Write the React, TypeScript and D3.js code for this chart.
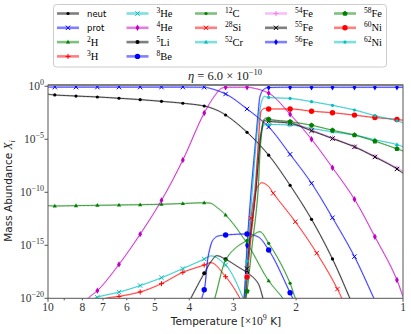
import React from 'react';
import * as d3 from 'd3';

// ---- axis / tick data ----
const X_TICKS = [10, 9, 8, 7, 6, 5, 4, 3, 2, 1];
const X_TICK_LABELS = ['10', '', '8', '7', '6', '5', '4', '3', '2', '1'];
const Y_TICK_EXP = [0, -5, -10, -15, -20];

// temperatures (10^9 K) where markers are drawn
const MARKER_T = [9.57, 8.34, 7.26, 6.31, 5.5, 4.79, 4.17, 3.63, 3.16, 2.75, 2.39, 2.08, 1.81, 1.58, 1.37, 1.2, 1.04];
const SI28_MARKER_T = [3.07, 2.68, 2.32, 2.01, 1.75, 1.53, 1.33, 1.16];

// ---- series: [T (10^9 K), log10 of mass abundance] ----
const neut = [[10, -0.755], [9.57, -0.82], [8.34, -0.92], [7.26, -1.01], [6.31, -1.13], [5.5, -1.26], [4.79, -1.42], [4.17, -1.6], [3.63, -1.86], [3.32, -2.3], [3.16, -2.71], [2.75, -4.34], [2.39, -6.5], [2.08, -9.34], [1.81, -12.55], [1.58, -16.29], [1.37, -21]];
const prot = [[10, -0.08], [9.57, -0.08], [7.26, -0.08], [5.5, -0.08], [4.17, -0.08], [3.63, -0.09], [3.45, -0.25], [3.16, -0.73], [2.75, -2.14], [2.39, -3.84], [2.08, -6.42], [1.81, -9.15], [1.58, -12.4], [1.37, -16.07], [1.2, -20.2]];
const h2 = [[10, -11.26], [9.57, -11.29], [8.34, -11.26], [7.26, -11.23], [6.31, -11.2], [5.5, -11.17], [4.79, -11.13], [4.17, -11.06], [3.63, -10.99], [3.5, -11.02], [3.32, -11.5], [3.16, -12.14], [2.75, -14.81], [2.39, -18.34], [2.18, -20], [2.08, -21]];
const h3 = [[7.2, -20.5], [6.87, -20.0], [6.31, -19.82], [5.5, -19.4], [4.79, -18.62], [4.17, -17.55], [3.63, -16.86], [3.48, -16.64], [3.16, -17.96], [2.88, -20], [2.75, -21.5]];
const he3 = [[7.6, -20.6], [7.38, -20.0], [7.26, -19.9], [6.31, -19.42], [5.5, -18.8], [4.79, -18.06], [4.17, -17.2], [3.63, -16.3], [3.47, -16.0], [3.16, -16.86], [2.82, -20], [2.72, -21.5]];
const he4 = [[8.0, -20.7], [7.71, -20.0], [7.26, -19.28], [6.31, -16.8], [5.5, -13.95], [4.79, -10.76], [4.17, -6.95], [3.63, -2.52], [3.39, -0.89], [3.25, -0.2], [3.16, -0.09], [2.75, -0.09], [2.6, -0.22], [2.39, -0.65], [2.08, -2.64], [1.81, -5.0], [1.58, -7.68], [1.37, -10.66], [1.2, -14.19], [1.04, -18.27], [1.0, -19.85]];
const li5 = [[4.1, -21], [3.96, -20], [3.63, -17.64], [3.45, -16.4], [3.35, -15.98], [3.16, -16.32], [2.92, -17.02], [2.75, -17.58], [2.56, -18.58], [2.48, -20], [2.42, -21.5]];
const be8 = [[3.78, -21], [3.69, -20], [3.62, -19.0], [3.54, -16.07], [3.43, -14.5], [3.32, -14.13], [3.16, -14.03], [2.75, -13.93], [2.56, -14.2], [2.39, -15.44], [2.08, -19.47], [1.98, -21]];
const c12 = [[3.5, -21.5], [3.39, -20], [3.16, -16.4], [2.95, -15.2], [2.74, -14.5], [2.53, -13.72], [2.39, -14.81], [2.08, -18.58], [2.01, -20], [1.95, -21]];
const si28 = [[2.84, -21.5], [2.8, -20], [2.75, -17], [2.68, -12.45], [2.62, -10.3], [2.56, -9.4], [2.5, -9.1], [2.4, -9.4], [2.32, -10.09], [2.011, -12.77], [1.753, -15.7], [1.529, -19.15], [1.488, -20], [1.45, -21]];
const cr52 = [[2.84, -21.5], [2.78, -20], [2.74, -17.5], [2.62, -10], [2.52, -4.5], [2.46, -3.65], [2.4, -3.6], [2.08, -3.65], [1.81, -3.98], [1.58, -4.3], [1.37, -4.6], [1.2, -5.05], [1.04, -5.5], [1.0, -5.7]];
const fe54 = [[2.84, -21.5], [2.78, -20], [2.74, -17], [2.6, -10], [2.51, -4.4], [2.46, -3.1], [2.4, -3.15], [2.08, -3.4], [1.81, -4.12], [1.58, -4.88], [1.37, -5.68], [1.2, -6.6], [1.04, -7.7], [1.0, -8.0]];
const fe55 = [[2.84, -21.5], [2.78, -20], [2.75, -17.2], [2.6, -10], [2.51, -4.5], [2.46, -3.25], [2.4, -3.3], [2.08, -3.49], [1.81, -4.2], [1.58, -4.93], [1.37, -5.72], [1.2, -6.67], [1.04, -7.8], [1.0, -8.2]];
const fe56 = [[2.86, -21.5], [2.805, -20], [2.75, -15.05], [2.68, -10.0], [2.604, -5.3], [2.56, -2.6], [2.53, -1.0], [2.47, -0.3], [2.4, -0.12], [2.08, -0.09], [1.0, -0.09]];
const fe58 = [[2.84, -21.5], [2.77, -20], [2.66, -15], [2.562, -10], [2.52, -5.5], [2.47, -3.2], [2.43, -3.0], [2.395, -3.1], [2.08, -3.34], [1.81, -3.68], [1.58, -4.15], [1.37, -4.6], [1.2, -5.18], [1.04, -5.9], [1.0, -6.1]];
const ni60 = [[2.84, -21.5], [2.78, -20], [2.75, -18.0], [2.607, -10], [2.507, -2.3], [2.45, -2.08], [2.4, -2.14], [2.08, -2.14], [1.81, -2.35], [1.58, -2.5], [1.37, -2.72], [1.2, -2.95], [1.04, -3.13], [1.0, -3.2]];
const ni62 = [[2.85, -21.5], [2.79, -20], [2.75, -16.5], [2.66, -10], [2.56, -3.5], [2.5, -1.4], [2.46, -0.95], [2.4, -1.05], [2.08, -1.15], [1.81, -1.45], [1.58, -1.8], [1.37, -2.24], [1.2, -2.77], [1.04, -3.25], [1.0, -3.45]];

const SERIES = [
  { mass: '', sym: 'neut', data: neut, color: '#000000', marker: '.', markT: MARKER_T },
  { mass: '', sym: 'prot', data: prot, color: '#0000ff', marker: 'x', markT: MARKER_T },
  { mass: '2', sym: 'H', data: h2, color: '#008000', marker: '^', markT: MARKER_T },
  { mass: '3', sym: 'H', data: h3, color: '#ff0000', marker: '+', markT: MARKER_T },
  { mass: '3', sym: 'He', data: he3, color: '#00bfbf', marker: 'x', markT: MARKER_T },
  { mass: '4', sym: 'He', data: he4, color: '#bf00bf', marker: 'd', markT: MARKER_T },
  { mass: '5', sym: 'Li', data: li5, color: '#000000', marker: 'o2', markT: MARKER_T },
  { mass: '8', sym: 'Be', data: be8, color: '#0000ff', marker: 'o', markT: MARKER_T },
  { mass: '12', sym: 'C', data: c12, color: '#008000', marker: '.', markT: MARKER_T },
  { mass: '28', sym: 'Si', data: si28, color: '#ff0000', marker: 'x', markT: SI28_MARKER_T },
  { mass: '52', sym: 'Cr', data: cr52, color: '#00bfbf', marker: '^', markT: MARKER_T },
  { mass: '54', sym: 'Fe', data: fe54, color: '#ee82ee', marker: '+', markT: MARKER_T },
  { mass: '55', sym: 'Fe', data: fe55, color: '#000000', marker: 'x', markT: MARKER_T },
  { mass: '56', sym: 'Fe', data: fe56, color: '#0000ff', marker: 'd', markT: MARKER_T },
  { mass: '58', sym: 'Fe', data: fe58, color: '#008000', marker: 'p', markT: MARKER_T },
  { mass: '60', sym: 'Ni', data: ni60, color: '#ff0000', marker: 'o', markT: MARKER_T },
  { mass: '62', sym: 'Ni', data: ni62, color: '#00bfbf', marker: '.', markT: MARKER_T },
];

const SERIF = '"Liberation Serif", "DejaVu Serif", serif';
const SANS = '"DejaVu Sans", sans-serif';

function monotone(xs: number[], ys: number[]) {
  const n = xs.length;
  const d: number[] = [];
  for (let i = 0; i < n - 1; i++) d.push((ys[i + 1] - ys[i]) / (xs[i + 1] - xs[i]));
  const m = new Array(n).fill(0);
  m[0] = d[0];
  m[n - 1] = d[n - 2];
  for (let i = 1; i < n - 1; i++) {
    if (d[i - 1] * d[i] <= 0) m[i] = 0;
    else {
      const h0 = xs[i] - xs[i - 1], h1 = xs[i + 1] - xs[i];
      const w1 = 2 * h1 + h0, w2 = h1 + 2 * h0;
      m[i] = (w1 + w2) / (w1 / d[i - 1] + w2 / d[i]);
    }
  }
  return (px: number) => {
    let i = d3.bisectRight(xs, px) - 1;
    i = Math.max(0, Math.min(n - 2, i));
    const h = xs[i + 1] - xs[i];
    const t = (px - xs[i]) / h;
    const t2 = t * t, t3 = t2 * t;
    return (2 * t3 - 3 * t2 + 1) * ys[i] + (t3 - 2 * t2 + t) * h * m[i] + (-2 * t3 + 3 * t2) * ys[i + 1] + (t3 - t2) * h * m[i + 1];
  };
}

function Marker({ type, color, cx, cy }: { type: string; color: string; cx: number; cy: number }) {
  switch (type) {
    case '.':
      return <circle cx={cx} cy={cy} r={1.6} fill={color} />;
    case 'o':
      return <circle cx={cx} cy={cy} r={2.7} fill={color} />;
    case 'o2':
      return <circle cx={cx} cy={cy} r={2.0} fill={color} />;
    case 'x': {
      const s = 2.2;
      return <path d={`M${cx - s},${cy - s}L${cx + s},${cy + s}M${cx - s},${cy + s}L${cx + s},${cy - s}`} stroke={color} strokeWidth={1} fill="none" />;
    }
    case '+': {
      const s = 2.5;
      return <path d={`M${cx - s},${cy}L${cx + s},${cy}M${cx},${cy - s}L${cx},${cy + s}`} stroke={color} strokeWidth={1} fill="none" />;
    }
    case 'd':
      return <path d={`M${cx},${cy - 3.2}L${cx + 1.9},${cy}L${cx},${cy + 3.2}L${cx - 1.9},${cy}Z`} fill={color} />;
    case '^':
      return <path d={`M${cx},${cy - 2.3}L${cx + 2.1},${cy + 1.5}L${cx - 2.1},${cy + 1.5}Z`} fill={color} />;
    case 'p': {
      const pts = d3.range(5).map((k) => {
        const a = -Math.PI / 2 + (k * 2 * Math.PI) / 5;
        return `${cx + 2.8 * Math.cos(a)},${cy + 2.8 * Math.sin(a)}`;
      });
      return <polygon points={pts.join(' ')} fill={color} />;
    }
    default:
      return null;
  }
}

function Label({ mass, sym, x, y, size }: { mass: string; sym: string; x: number; y: number; size: number }) {
  if (!mass) {
    return (
      <text x={x} y={y} fontFamily={SANS} fontSize={size - 1} dominantBaseline="central">
        {sym}
      </text>
    );
  }
  return (
    <text x={x} y={y + 3.5} fontFamily={SERIF} fontSize={size + 1}>
      <tspan fontSize={size - 2} dy={-4}>{mass}</tspan>
      <tspan dy={4}>{sym}</tspan>
    </text>
  );
}

export default function App() {
  const left = 48, right = 403, top = 85, bottom = 298.3;
  const x = d3.scaleLog().domain([10, 1]).range([left, right]);
  const y = d3.scaleLog().domain([1e-20, Math.pow(10, 0.12)]).range([bottom, top]);
  const yv = (v: number) => y(Math.pow(10, v));

  const line = d3
    .line<[number, number]>()
    .x((d) => d[0])
    .y((d) => yv(d[1]));

  const curves = SERIES.map((s) => {
    const pts = s.data.map(([t, v]) => [x(t), v] as [number, number]).sort((a, b) => a[0] - b[0]);
    const xs = pts.map((p) => p[0]);
    const vs = pts.map((p) => p[1]);
    const f = monotone(xs, vs);
    const samples: [number, number][] = [];
    for (let i = 0; i < xs.length - 1; i++) {
      const N = 16;
      for (let k = 0; k < N; k++) {
        const px = xs[i] + ((xs[i + 1] - xs[i]) * k) / N;
        samples.push([px, f(px)]);
      }
    }
    samples.push([xs[xs.length - 1], vs[vs.length - 1]]);
    const markers = s.markT
      .map((t) => x(t))
      .filter((px) => px >= xs[0] && px <= xs[xs.length - 1])
      .map((px) => ({ px, v: f(px) }))
      .filter((m) => m.v > -20.6 && m.v < 0.4);
    return { s, d: line(samples) || '', markers };
  });

  // legend layout: 5 columns filled column-wise
  const colCounts = [4, 4, 3, 3, 3];
  const colX = [57, 126.5, 195, 265, 334];
  const legendItems: { s: typeof SERIES[number]; col: number; row: number }[] = [];
  let idx = 0;
  colCounts.forEach((c, col) => {
    for (let r = 0; r < c; r++) {
      legendItems.push({ s: SERIES[idx], col, row: r });
      idx++;
    }
  });

  return (
    <svg width={411} height={334} style={{ position: 'absolute', left: 0, top: 0, background: '#fff' }}>
      <defs>
        <clipPath id="plotclip">
          <rect x={left} y={top} width={right - left} height={bottom - top} />
        </clipPath>
      </defs>
      <rect x={0} y={0} width={411} height={334} fill="#fff" />

      {/* curves */}
      <g clipPath="url(#plotclip)">
        {curves.map(({ s, d }, i) => (
          <g key={i}>
            <path d={d} fill="none" stroke={s.color} strokeWidth={2} strokeOpacity={0.15} />
            <path d={d} fill="none" stroke={s.color} strokeWidth={0.9} strokeOpacity={0.85} />
          </g>
        ))}
        {curves.map(({ s, markers }, i) => (
          <g key={'m' + i}>
            {markers.map((m, k) => (
              <Marker key={k} type={s.marker} color={s.color} cx={m.px} cy={yv(m.v)} />
            ))}
          </g>
        ))}
      </g>

      {/* frame */}
      <line x1={left} x2={right} y1={top} y2={top} stroke="#aaaaaa" strokeWidth={2.2} />
      <rect x={left} y={top} width={right - left} height={bottom - top} fill="none" stroke="#555" strokeWidth={1} />

      {/* x ticks */}
      {X_TICKS.map((t, i) => (
        <g key={'xt' + i}>
          <line x1={x(t)} x2={x(t)} y1={bottom} y2={bottom + (t === 10 || t === 1 ? 3.5 : 2)} stroke="#555" />
          {X_TICK_LABELS[i] && (
            <text x={x(t)} y={bottom + 13} textAnchor="middle" fontFamily={SERIF} fontSize={11.5} fill="#333">
              {X_TICK_LABELS[i]}
            </text>
          )}
        </g>
      ))}
      {/* y ticks */}
      {Y_TICK_EXP.map((e) => (
        <g key={'yt' + e}>
          <line x1={left - 3.5} x2={left} y1={yv(e)} y2={yv(e)} stroke="#555" />
          <text x={left - 4} y={yv(e) + 4} textAnchor="end" fontFamily={SERIF} fontSize={11.5} fill="#333">
            10
            <tspan fontSize={8} dy={-5}>
              {e === 0 ? '0' : '\u2212' + Math.abs(e)}
            </tspan>
          </text>
        </g>
      ))}

      {/* title */}
      <text x={225} y={80} textAnchor="middle" fontFamily={SERIF} fontSize={12.5} fill="#222">
        <tspan fontStyle="italic">η</tspan> = 6.0 × 10
        <tspan fontSize={8.5} dy={-5}>−10</tspan>
      </text>

      {/* axis labels */}
      <text x={226} y={324.5} textAnchor="middle" fontSize={10.5} fill="#222">
        <tspan fontFamily={SANS}>Temperature [</tspan>
        <tspan fontFamily={SERIF} fontSize={11.5}>×10</tspan>
        <tspan fontFamily={SERIF} fontSize={8} dy={-5}>9</tspan>
        <tspan fontFamily={SANS} dy={5}> K]</tspan>
      </text>
      <text transform="translate(12,191) rotate(-90)" textAnchor="middle" fontSize={10.5} fill="#222">
        <tspan fontFamily={SANS}>Mass Abundance </tspan>
        <tspan fontFamily={SERIF} fontStyle="italic" fontSize={11.5}>X</tspan>
        <tspan fontFamily={SERIF} fontStyle="italic" fontSize={8} dy={3}>i</tspan>
      </text>

      {/* legend */}
      <rect x={53.5} y={4.5} width={333} height={62.5} rx={3} fill="#fff" fillOpacity={0.9} stroke="#cccccc" strokeWidth={1} />
      {legendItems.map(({ s, col, row }, i) => {
        const lx = colX[col];
        const ly = 13.5 + row * 14.3;
        return (
          <g key={'lg' + i}>
            <line x1={lx} x2={lx + 22} y1={ly} y2={ly} stroke={s.color} strokeWidth={2.6} strokeOpacity={0.5} />
            <Marker type={s.marker} color={s.color} cx={lx + 11} cy={ly} />
            <Label mass={s.mass} sym={s.sym} x={lx + 30} y={ly} size={9.5} />
          </g>
        );
      })}
    </svg>
  );
}
